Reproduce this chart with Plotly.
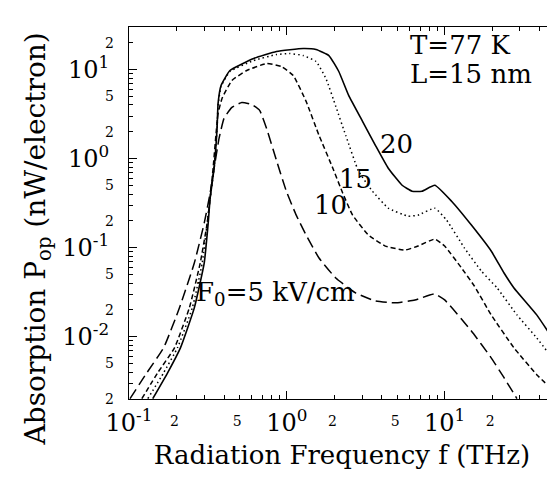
import plotly.graph_objects as go
import numpy as np

# Radiation frequency (THz) and absorption (nW/electron) for each field F0 (kV/cm)
f_20 = [0.1414, 0.1756, 0.2118, 0.2593, 0.2996, 0.3175, 0.3266, 0.3461, 0.3614, 0.3667, 0.3830, 0.4360,
        0.6166, 0.8596, 1.269, 1.531, 1.847, 2.134, 2.465, 3.017, 3.640, 4.392, 5.376, 6.210, 7.173,
        8.659, 11.06, 14.77, 19.71, 23.78, 27.48, 38.30, 48.95]
p_20 = [0.00202, 0.00394, 0.00751, 0.0211, 0.0672, 0.1886, 0.359, 0.779, 2.184, 4.162, 6.619, 9.745,
        13.28, 15.91, 17.19, 16.75, 14.35, 9.497, 5.114, 2.617, 1.409, 0.779, 0.502, 0.430, 0.430,
        0.502, 0.332, 0.1791, 0.0916, 0.0519, 0.0353, 0.0176, 0.00923]

f_15 = [0.1316, 0.1657, 0.2028, 0.2519, 0.2910, 0.3129, 0.3266, 0.3461, 0.3614, 0.3667, 0.3830, 0.4360,
        0.6166, 0.8596, 1.037, 1.269, 1.531, 1.769, 2.043, 2.360, 2.848, 3.486, 4.392, 5.862, 6.771,
        8.659, 10.29, 13.35, 17.06, 21.49, 28.70, 38.30, 48.95]
p_15 = [0.00202, 0.00394, 0.00751, 0.0211, 0.0672, 0.1886, 0.359, 0.779, 2.184, 3.953, 6.450, 9.497,
        12.61, 14.72, 15.11, 14.35, 12.29, 7.930, 3.852, 1.824, 0.721, 0.430, 0.2776, 0.2258, 0.2317,
        0.2776, 0.2037, 0.0990, 0.0547, 0.0353, 0.0176, 0.00972, 0.00551]

f_10 = [0.1206, 0.1520, 0.1942, 0.2412, 0.2827, 0.3129, 0.3266, 0.3411, 0.3562, 0.3667, 0.3885, 0.4487,
        0.5572, 0.7437, 0.9237, 1.098, 1.325, 1.599, 1.957, 2.261, 2.611, 3.290, 4.206, 5.614, 6.771,
        8.659, 10.0, 12.79, 15.42, 19.71, 27.48, 38.30, 48.95]
p_10 = [0.00202, 0.00394, 0.00751, 0.0211, 0.0672, 0.1886, 0.359, 0.779, 1.920, 3.217, 4.734, 7.530,
        9.745, 11.67, 10.80, 8.567, 4.383, 1.824, 0.779, 0.409, 0.2317, 0.1384, 0.1042, 0.0940, 0.1042,
        0.1248, 0.1042, 0.0591, 0.0371, 0.0176, 0.00751, 0.00375, 0.00248]

f_5 = [0.1015, 0.1297, 0.1657, 0.2088, 0.2593, 0.2996, 0.3266, 0.3461, 0.3720, 0.3999, 0.4487, 0.5184,
       0.5989, 0.6725, 0.7437, 0.8596, 0.9928, 1.147, 1.325, 1.599, 2.043, 2.727, 3.640, 4.859, 6.484,
       8.659, 10.0, 14.77, 19.71, 23.78, 28.70]
p_5 = [0.00202, 0.00394, 0.00751, 0.0211, 0.0672, 0.1886, 0.409, 0.779, 1.688, 2.827, 3.754, 4.271,
       4.056, 3.475, 2.184, 0.957, 0.430, 0.2317, 0.1384, 0.0765, 0.0456, 0.0310, 0.0252, 0.0240, 0.0259,
       0.0302, 0.0259, 0.0116, 0.00580, 0.00347, 0.00202]

x_major = [0.1, 1, 10]
x_major_text = ["10<sup>-1</sup>", "10<sup>0</sup>", "10<sup>1</sup>"]
x_small = [0.2, 0.5, 2, 5, 20, 50]
x_small_text = ["2", "5", "2", "5", "2", "5"]
x_minor = [0.2, 0.3, 0.4, 0.5, 0.6, 0.7, 0.8, 0.9, 2, 3, 4, 5, 6, 7, 8, 9, 20, 30, 40, 50]

y_major = [0.01, 0.1, 1, 10]
y_major_text = ["10<sup>-2</sup>", "10<sup>-1</sup>", "10<sup>0</sup>", "10<sup>1</sup>"]
y_small = [0.002, 0.005, 0.02, 0.05, 0.2, 0.5, 2, 5, 20]
y_small_text = ["2", "5", "2", "5", "2", "5", "2", "5", "2"]
y_minor = [0.002, 0.003, 0.004, 0.005, 0.006, 0.007, 0.008, 0.009,
           0.02, 0.03, 0.04, 0.05, 0.06, 0.07, 0.08, 0.09,
           0.2, 0.3, 0.4, 0.5, 0.6, 0.7, 0.8, 0.9,
           2, 3, 4, 5, 6, 7, 8, 9, 20, 30]

x_range = [0.1, 50]
y_range = [0.002, 30]

FONT = "DejaVu Serif"

fig = go.Figure()
series = [
    (f_20, p_20, "solid", 1.6),
    (f_15, p_15, "1.5px,3px", 1.5),
    (f_10, p_10, "5px,3px", 1.5),
    (f_5, p_5, "11px,5px", 1.5),
]
for fx, py, dash, w in series:
    fig.add_trace(go.Scatter(x=fx, y=py, mode="lines",
                             line=dict(color="black", width=w, dash=dash, shape="spline", smoothing=0.4),
                             showlegend=False, hoverinfo="skip"))
fig.add_trace(go.Scatter(x=[], y=[], xaxis="x2", yaxis="y2", showlegend=False, hoverinfo="skip"))
fig.add_trace(go.Scatter(x=[], y=[], xaxis="x3", yaxis="y3", showlegend=False, hoverinfo="skip"))

lx = [np.log10(x_range[0]), np.log10(x_range[1]) + 1e-4]
ly = [np.log10(v) for v in y_range]

minor_x = dict(tickvals=x_minor, ticks="inside", ticklen=4, tickcolor="black", showgrid=False)
minor_y = dict(tickvals=y_minor, ticks="inside", ticklen=4, tickcolor="black", showgrid=False)

fig.update_layout(
    width=555, height=479,
    margin=dict(l=121, r=6, t=19, b=88),
    paper_bgcolor="white", plot_bgcolor="white",
    font=dict(family=FONT, color="black"),
    xaxis=dict(type="log", range=lx, tickvals=x_major, ticktext=x_major_text,
               tickfont=dict(size=24, family=FONT), ticks="inside", ticklen=8, tickcolor="black",
               showline=True, linecolor="black", linewidth=1, mirror=True,
               showgrid=False, zeroline=False, ticklabelstandoff=2,
               minor=minor_x,
               title=dict(text="Radiation Frequency f (THz)", font=dict(size=26, family=FONT), standoff=10)),
    xaxis2=dict(type="log", range=lx, overlaying="x", anchor="y", side="bottom",
                tickvals=x_small, ticktext=x_small_text, tickfont=dict(size=14, family=FONT),
                ticks="", showline=False, showgrid=False, zeroline=False, ticklabelstandoff=12,
                ticklabelshift=-2, ticklabeloverflow="allow"),
    xaxis3=dict(type="log", range=lx, overlaying="x", anchor="y3", side="top",
                tickvals=x_major, ticks="inside", ticklen=8, tickcolor="black", showticklabels=False,
                showline=False, showgrid=False, zeroline=False, minor=minor_x),
    yaxis=dict(type="log", range=ly, tickvals=y_major, ticktext=y_major_text,
               tickfont=dict(size=24, family=FONT), ticks="inside", ticklen=8, tickcolor="black",
               showline=True, linecolor="black", linewidth=1, mirror=True,
               showgrid=False, zeroline=False, ticklabelstandoff=14,
               minor=minor_y),
    yaxis2=dict(type="log", range=ly, overlaying="y", anchor="x", side="left",
                tickvals=y_small, ticktext=y_small_text, tickfont=dict(size=14, family=FONT),
                ticks="", showline=False, showgrid=False, zeroline=False, ticklabelstandoff=14),
    yaxis3=dict(type="log", range=ly, overlaying="y", anchor="x3", side="right",
                tickvals=y_major, ticks="inside", ticklen=8, tickcolor="black", showticklabels=False,
                showline=False, showgrid=False, zeroline=False, minor=minor_y),
)

# y-axis title (placed as rotated text to match its position in the reference)
fig.add_annotation(text="Absorption P<sub>op</sub> (nW/electron)", x=-0.215, y=0.43,
                   xref="paper", yref="paper", xanchor="center", yanchor="middle",
                   textangle=-90, showarrow=False, font=dict(size=28, family=FONT, color="black"))

ann = [
    ("T=77 K", 0.768, 1.28, "left"),
    ("L=15 nm", 0.768, 0.945, "left"),
    ("20", 0.693, 0.16, "center"),
    ("15", 0.436, -0.23, "center"),
    ("10", 0.279, -0.52, "center"),
    ("F<sub>0</sub>=5 kV/cm", -0.59, -1.51, "left"),
]
for t, ax_, ay_, xa in ann:
    fig.add_annotation(text=t, x=ax_, y=ay_, xref="x", yref="y", xanchor=xa, yanchor="middle",
                       showarrow=False, font=dict(size=26, family=FONT, color="black"))

fig.write_html("out.html")
